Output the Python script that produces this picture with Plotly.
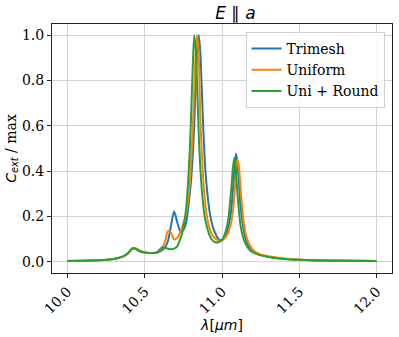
import plotly.graph_objects as go

# wavelength grid (um)
wavelength = [10.0, 10.1, 10.2, 10.3, 10.35, 10.38, 10.40, 10.42, 10.44, 10.47,
              10.50, 10.55, 10.58, 10.61, 10.63, 10.65, 10.67, 10.69, 10.71, 10.73,
              10.75, 10.77, 10.79, 10.80, 10.81, 10.82, 10.83, 10.84, 10.85, 10.86,
              10.87, 10.88, 10.89, 10.90, 10.92, 10.94, 10.96, 10.98, 11.00, 11.02,
              11.04, 11.06, 11.07, 11.08, 11.09, 11.10, 11.11, 11.12, 11.14, 11.16,
              11.18, 11.21, 11.25, 11.30, 11.40, 11.50, 11.70, 12.0]

trimesh = [0.003, 0.004, 0.006, 0.012, 0.020, 0.030, 0.042, 0.058, 0.057, 0.046,
           0.042, 0.038, 0.040, 0.050, 0.062, 0.090, 0.160, 0.223, 0.175, 0.135,
           0.140, 0.180, 0.290, 0.360, 0.460, 0.600, 0.790, 0.950, 1.000, 0.920,
           0.750, 0.570, 0.430, 0.340, 0.220, 0.155, 0.120, 0.097, 0.097, 0.110,
           0.150, 0.230, 0.310, 0.400, 0.478, 0.435, 0.340, 0.245, 0.140, 0.087,
           0.062, 0.043, 0.030, 0.022, 0.013, 0.009, 0.005, 0.003]

uniform = [0.003, 0.004, 0.006, 0.012, 0.020, 0.030, 0.042, 0.057, 0.060, 0.048,
           0.042, 0.038, 0.042, 0.060, 0.085, 0.135, 0.128, 0.098, 0.105, 0.130,
           0.170, 0.220, 0.330, 0.440, 0.570, 0.750, 0.930, 1.000, 0.900, 0.630,
           0.470, 0.350, 0.270, 0.210, 0.145, 0.115, 0.100, 0.093, 0.094, 0.105,
           0.130, 0.176, 0.220, 0.290, 0.390, 0.450, 0.415, 0.325, 0.175, 0.105,
           0.072, 0.046, 0.032, 0.024, 0.014, 0.009, 0.005, 0.003]

uni_round = [0.003, 0.004, 0.006, 0.012, 0.021, 0.032, 0.045, 0.060, 0.057, 0.045,
             0.040, 0.037, 0.042, 0.062, 0.062, 0.057, 0.055, 0.058, 0.068, 0.100,
             0.150, 0.250, 0.470, 0.640, 0.850, 1.000, 0.940, 0.760, 0.550, 0.410,
             0.310, 0.240, 0.190, 0.160, 0.115, 0.093, 0.085, 0.087, 0.095, 0.125,
             0.185, 0.320, 0.410, 0.460, 0.400, 0.300, 0.220, 0.160, 0.100, 0.069,
             0.051, 0.038, 0.028, 0.021, 0.012, 0.008, 0.004, 0.003]

series = [("Trimesh", trimesh, "#1f77b4"),
          ("Uniform", uniform, "#ff7f0e"),
          ("Uni + Round", uni_round, "#2ca02c")]

x_ticks = [10.0, 10.5, 11.0, 11.5, 12.0]
y_ticks = [0.0, 0.2, 0.4, 0.6, 0.8, 1.0]

serif = "DejaVu Serif"
sans = "DejaVu Sans"

fig = go.Figure()

for name, vals, color in series:
    fig.add_trace(go.Scatter(
        x=wavelength,
        y=vals,
        name=name,
        mode="lines",
        line=dict(color=color, width=2, shape="spline", smoothing=0.6),
    ))

axis_style = dict(
    showline=True,
    linecolor="#222",
    linewidth=1,
    mirror=True,
    ticks="outside",
    ticklen=4,
    tickcolor="#222",
    showgrid=True,
    gridcolor="#d3d3d3",
    gridwidth=1,
    zeroline=False,
    tickfont=dict(family=serif, size=14, color="black"),
)

fig.update_xaxes(
    range=[9.9, 12.1],
    tickvals=x_ticks,
    ticktext=[f"{v:.1f}" for v in x_ticks],
    tickangle=-45,
    title=dict(text="<i>λ</i>[<i>μm</i>]", font=dict(family=sans, size=14, color="black"), standoff=0),
    automargin=False,
    **axis_style,
)

fig.update_yaxes(
    range=[-0.05, 1.05],
    tickvals=y_ticks,
    ticktext=[f"{v:.1f}" for v in y_ticks],
    title=dict(
        text="<i>C</i><sub><i>ext</i></sub><span style='font-family:DejaVu Serif'> / max</span>",
        font=dict(family=sans, size=14, color="black"),
        standoff=2,
    ),
    automargin=False,
    **axis_style,
)

fig.update_layout(
    width=399,
    height=337,
    margin=dict(l=52, r=7, t=24, b=64),
    paper_bgcolor="white",
    plot_bgcolor="white",
    title=dict(
        text="<i>E</i> ∥ <i>a</i>",
        x=0.59, xanchor="center",
        y=0.962, yanchor="middle",
        font=dict(family=sans, size=17, color="black"),
    ),
    legend=dict(
        x=0.978, xanchor="right",
        y=0.968, yanchor="top",
        bgcolor="rgba(255,255,255,0.85)",
        bordercolor="#d0d0d0",
        borderwidth=1,
        font=dict(family=serif, size=14, color="black"),
        tracegroupgap=0,
    ),
    showlegend=True,
)

# the page adds an 8px body margin by default; drop it so the figure fills the window
fig.write_html(
    "out.html",
    config={"displayModeBar": False},
    post_script="document.body.style.margin='0';",
)
